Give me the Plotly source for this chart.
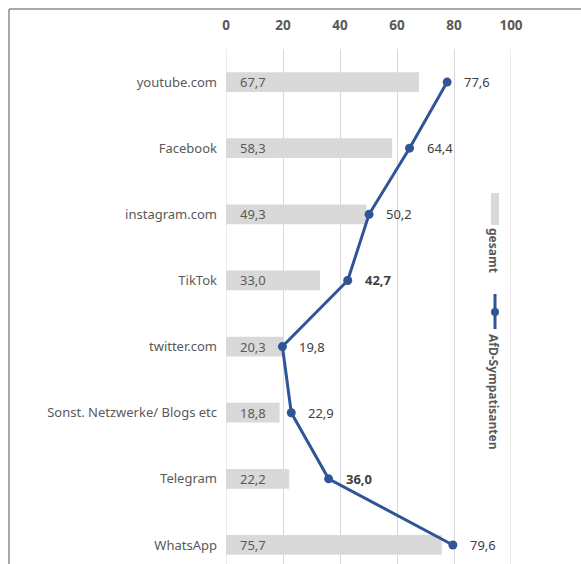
import plotly.graph_objects as go

categories = ["youtube.com", "Facebook", "instagram.com", "TikTok", "twitter.com",
              "Sonst. Netzwerke/ Blogs etc", "Telegram", "WhatsApp"]
gesamt = [67.7, 58.3, 49.3, 33.0, 20.3, 18.8, 22.2, 75.7]
afd = [77.6, 64.4, 50.2, 42.7, 19.8, 22.9, 36.0, 79.6]
afd_bold = [False, False, False, True, False, False, True, False]
x_ticks = [0, 20, 40, 60, 80, 100]

FONT = "Noto Sans"
GREY_TXT = "#595959"
BAR_COL = "#d9d9d9"
LINE_COL = "#2f5597"
GRID_COL = "#d9d9d9"

def fmt(v):
    return f"{v:.1f}".replace(".", ",")

fig = go.Figure()
fig.add_trace(go.Bar(
    y=categories, x=gesamt, orientation="h", name="gesamt",
    marker=dict(color=BAR_COL, line=dict(width=0)), width=0.30,
    hoverinfo="skip",
))
fig.add_trace(go.Scatter(
    y=categories, x=afd, mode="lines+markers", name="AfD-Sympatisanten",
    line=dict(color=LINE_COL, width=3), marker=dict(color=LINE_COL, size=9),
    hoverinfo="skip",
))

annotations = []
for c, v in zip(categories, gesamt):
    annotations.append(dict(x=0, y=c, xref="x", yref="y", text=fmt(v), showarrow=False,
                            xanchor="left", xshift=12, font=dict(family=FONT, size=13, color=GREY_TXT)))
for c, v, b in zip(categories, afd, afd_bold):
    t = f"<b>{fmt(v)}</b>" if b else fmt(v)
    annotations.append(dict(x=v, y=c, xref="x", yref="y", text=t, showarrow=False,
                            xanchor="left", xshift=15, font=dict(family=FONT, size=13, color="#404040")))

# legend (vertical, rotated)
def px_x(p):
    return (p - 226) / 285.0

def px_y(p):
    return (564 - p) / 515.0

annotations.append(dict(x=px_x(494), y=px_y(250), xref="paper", yref="paper", text="<b>gesamt</b>",
                        textangle=90, showarrow=False, xanchor="center", yanchor="middle",
                        font=dict(family=FONT, size=12, color=GREY_TXT)))
annotations.append(dict(x=px_x(494), y=px_y(392), xref="paper", yref="paper", text="<b>AfD-Sympatisanten</b>",
                        textangle=90, showarrow=False, xanchor="center", yanchor="middle",
                        font=dict(family=FONT, size=12, color=GREY_TXT)))

shapes = [
    # edge gridlines (at first and last tick)
    dict(type="line", xref="x", yref="paper", x0=x_ticks[0], x1=x_ticks[0], y0=0, y1=1,
         line=dict(color=GRID_COL, width=1), layer="below"),
    dict(type="line", xref="x", yref="paper", x0=x_ticks[-1], x1=x_ticks[-1], y0=0, y1=1,
         line=dict(color=GRID_COL, width=1), layer="below"),
    # frame
    dict(type="line", xref="paper", yref="paper", x0=px_x(9), x1=px_x(9), y0=-0.1, y1=px_y(9),
         line=dict(color="#8c8c8c", width=1.5)),
    dict(type="line", xref="paper", yref="paper", x0=px_x(9), x1=px_x(600), y0=px_y(9), y1=px_y(9),
         line=dict(color="#8c8c8c", width=1.5)),
    # legend symbols
    dict(type="rect", xref="paper", yref="paper", x0=px_x(491), x1=px_x(499), y0=px_y(225), y1=px_y(193),
         fillcolor=BAR_COL, line=dict(width=0)),
    dict(type="line", xref="paper", yref="paper", x0=px_x(495), x1=px_x(495), y0=px_y(329), y1=px_y(294),
         line=dict(color=LINE_COL, width=3)),
    dict(type="circle", xref="paper", yref="paper", x0=px_x(491), x1=px_x(499), y0=px_y(316), y1=px_y(308),
         fillcolor=LINE_COL, line=dict(width=0)),
]

fig.update_layout(
    width=581, height=564,
    margin=dict(l=226, r=70, t=49, b=0, pad=0),
    paper_bgcolor="white", plot_bgcolor="white",
    showlegend=False,
    annotations=annotations, shapes=shapes,
    xaxis=dict(side="top", range=[0, 100], tickvals=x_ticks, showgrid=True, gridcolor=GRID_COL,
               gridwidth=1, zeroline=False, showline=False, ticks="",
               tickfont=dict(family=FONT, size=13.5, color=GREY_TXT, weight="bold"),
               ticklabelstandoff=15),
    yaxis=dict(type="category", categoryorder="array", categoryarray=categories,
               range=[7.288, -0.5], showgrid=False, zeroline=False, showline=False, ticks="",
               tickfont=dict(family=FONT, size=13, color=GREY_TXT), ticklabelstandoff=8),
)

fig.write_html("out.html")
